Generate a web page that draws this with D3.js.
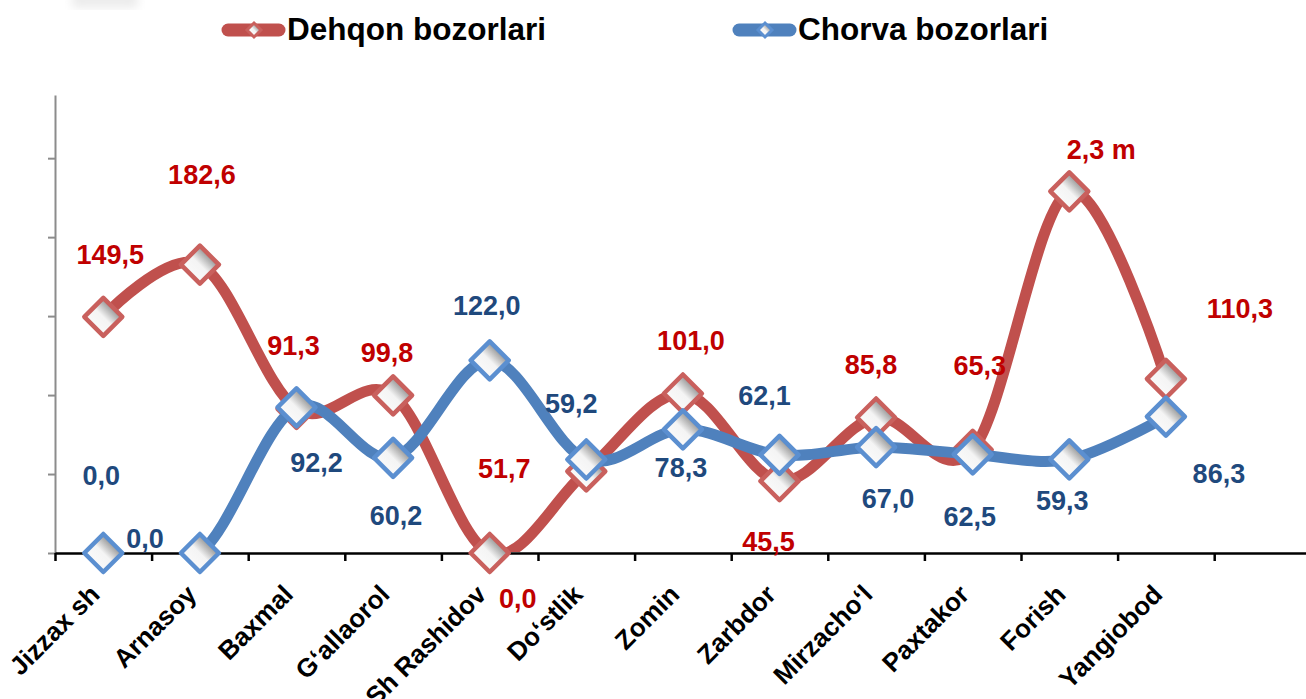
<!DOCTYPE html>
<html>
<head>
<meta charset="utf-8">
<script src="https://cdn.jsdelivr.net/npm/d3@7"></script>
<style>
  body { margin: 0; background: #fff; }
  text { font-family: "Liberation Sans", Arial, sans-serif; font-weight: bold; }
</style>
</head>
<body>
<svg id="chart" width="1306" height="699"></svg>
<script>
const categories = ["Jizzax sh", "Arnasoy", "Baxmal", "G‘allaorol", "Sh Rashidov", "Do‘stlik",
  "Zomin", "Zarbdor", "Mirzacho‘l", "Paxtakor", "Forish", "Yangiobod"];
const dehqonValues = [149.5, 182.6, 91.3, 99.8, 0, 51.7, 101.0, 45.5, 85.8, 65.3, 229, 110.3];
const dehqonLabels = ["149,5", "182,6", "91,3", "99,8", "0,0", "51,7", "101,0", "45,5", "85,8", "65,3", "2,3 m", "110,3"];
const chorvaValues = [0, 0, 92.2, 60.2, 122.0, 59.2, 78.3, 62.1, 67.0, 62.5, 59.3, 86.3];
const chorvaLabels = ["0,0", "0,0", "92,2", "60,2", "122,0", "59,2", "78,3", "62,1", "67,0", "62,5", "59,3", "86,3"];
const yTicks = [0, 50, 100, 150, 200, 250];

// label placement (offset from the point, baseline centre)
const dehqonOffsets = [[7,-53],[2,-81],[-3,-54],[-6,-33],[28,55],[-82,7],[8,-43],[-11,70],[-5,-43],[7,-75],[32,-32],[74,-61]];
const chorvaOffsets = [[-2,-68],[-55,-5],[20,65],[3,67],[-3,-45],[-15,-47],[-2,48],[-15,-50],[12,61],[-3,72],[-7,51],[53,66]];

const plotLeft = 55, plotBottom = 553, plotTop = 95, step = 96.6;
const svg = d3.select('#chart');

const xEdge = d3.scaleLinear().domain([0, 13]).range([plotLeft, plotLeft + 13 * step]);
const xPos = i => xEdge(i + 0.5);
const yScale = d3.scaleLinear().domain([0, 290]).range([plotBottom, plotTop]);

const defs = svg.append('defs');
const grad = defs.append('linearGradient').attr('id', 'mk')
  .attr('x1', 0).attr('y1', 1).attr('x2', 1).attr('y2', 0);
grad.append('stop').attr('offset', '0%').attr('stop-color', '#ffffff');
grad.append('stop').attr('offset', '50%').attr('stop-color', '#f4f4f4');
grad.append('stop').attr('offset', '82%').attr('stop-color', '#7a7a7a');
grad.append('stop').attr('offset', '100%').attr('stop-color', '#a8a8a8');
defs.append('clipPath').attr('id', 'plot').append('rect')
  .attr('x', plotLeft).attr('y', 0).attr('width', 1306 - plotLeft).attr('height', plotBottom - 1);
defs.append('filter').attr('id', 'blur').append('feGaussianBlur').attr('stdDeviation', 5);

// faint logo remnant top-left
svg.append('rect').attr('x', 72).attr('y', -12).attr('width', 66).attr('height', 20)
  .attr('rx', 4).attr('fill', '#ececec').attr('filter', 'url(#blur)');

// axes
svg.append('g').attr('transform', `translate(${plotLeft},0)`)
  .call(d3.axisLeft(yScale).tickValues(yTicks).tickFormat('').tickSize(7).tickSizeOuter(0))
  .call(g => g.selectAll('path, line').attr('stroke', '#8c8c8c').attr('stroke-width', 2));

svg.append('g').attr('transform', `translate(0,${plotBottom})`)
  .call(d3.axisBottom(xEdge).tickValues(d3.range(0, 14)).tickFormat('').tickSize(8).tickSizeOuter(0))
  .call(g => g.selectAll('path, line').attr('stroke', '#000').attr('stroke-width', 2.5));

svg.append('g').selectAll('text')
  .data(categories)
  .enter()
  .append('text')
  .attr('transform', (d, i) => `translate(${xPos(i) - 2},596) rotate(-45)`)
  .attr('text-anchor', 'end')
  .attr('font-size', 26)
  .attr('fill', '#000')
  .text(d => d);

const line = d3.line()
  .x((d, i) => xPos(i))
  .y(d => yScale(d))
  .curve(d3.curveCatmullRom.alpha(0));

const diamond = r => `M0,${-r}L${r},0L0,${r}L${-r},0Z`;

function drawSeries(values, color, markerStroke) {
  svg.append('path')
    .datum(values)
    .attr('clip-path', 'url(#plot)')
    .attr('fill', 'none')
    .attr('stroke', color)
    .attr('stroke-width', 11)
    .attr('stroke-linecap', 'round')
    .attr('d', line);
  svg.append('g').selectAll('path')
    .data(values)
    .enter()
    .append('path')
    .attr('transform', (d, i) => `translate(${xPos(i)},${yScale(d)})`)
    .attr('d', diamond(19))
    .attr('fill', 'url(#mk)')
    .attr('stroke', markerStroke)
    .attr('stroke-width', 4.5)
    .attr('stroke-linejoin', 'round');
}

function drawLabels(values, labels, offsets, color) {
  svg.append('g').selectAll('text')
    .data(values)
    .enter()
    .append('text')
    .attr('x', (d, i) => xPos(i) + offsets[i][0])
    .attr('y', (d, i) => yScale(d) + offsets[i][1])
    .attr('text-anchor', 'middle')
    .attr('font-size', 27)
    .attr('fill', color)
    .text((d, i) => labels[i]);
}

drawSeries(dehqonValues, '#c0504d', '#c9605d');
drawSeries(chorvaValues, '#4f81bd', '#5b8fd0');
drawLabels(dehqonValues, dehqonLabels, dehqonOffsets, '#c00000');
drawLabels(chorvaValues, chorvaLabels, chorvaOffsets, '#1f497d');

// legend
const legend = [
  { name: 'Dehqon bozorlari', color: '#c0504d', stroke: '#c9605d', x: 222 },
  { name: 'Chorva bozorlari', color: '#4f81bd', stroke: '#5b8fd0', x: 733 }
];
const lg = svg.append('g').selectAll('g').data(legend).enter().append('g')
  .attr('transform', d => `translate(${d.x},30)`);
lg.append('line').attr('x1', 6).attr('x2', 57).attr('y1', 0).attr('y2', 0)
  .attr('stroke', d => d.color).attr('stroke-width', 13).attr('stroke-linecap', 'round');
lg.append('path').attr('transform', 'translate(32,0)').attr('d', diamond(7))
  .attr('fill', 'url(#mk)').attr('stroke', d => d.stroke).attr('stroke-width', 3);
lg.append('text').attr('x', 65).attr('y', 10).attr('font-size', 31.5).attr('fill', '#000')
  .text(d => d.name);
</script>
</body>
</html>
